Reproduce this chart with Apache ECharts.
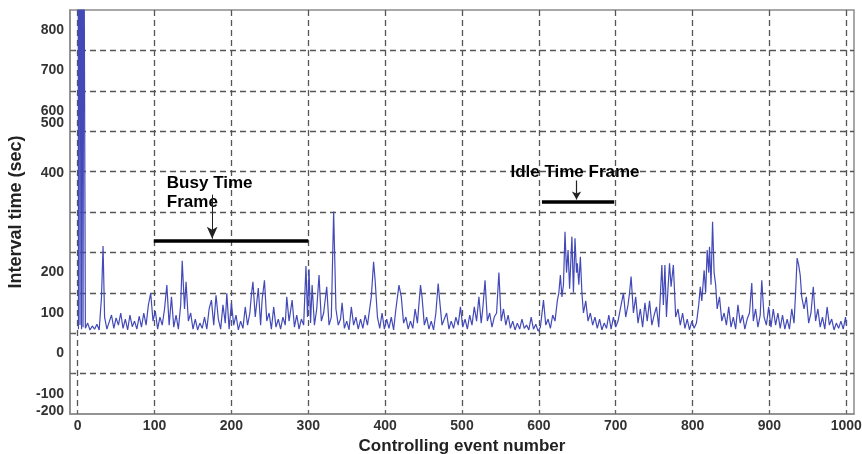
<!DOCTYPE html>
<html>
<head>
<meta charset="utf-8">
<script src="https://cdn.jsdelivr.net/npm/echarts@6/dist/echarts.min.js"></script>
<style>
html,body{margin:0;padding:0;background:#fff;}
#chart{width:862px;height:454px;}
</style>
</head>
<body>
<div id="chart"></div>
<script>
// ---- data ----
const eventNo = [0,1,2,3,4,5,6,7,8,10,13,16,19,22,25,28,31,33,35,38,41,44,47,50,53,56,59,62,65,68,71,74,77,80,83,86,89,92,95,98,101,104,107,110,113,116,119,122,125,128,131,134,136,139,141,144,147,150,153,156,159,162,165,168,171,174,177,180,183,186,189,192,194,197,200,203,206,209,212,215,218,221,224,226,228,231,235,238,240,243,246,249,252,255,258,261,264,267,270,272,275,279,282,285,288,291,294,297,299,301,303,305,308,311,314,317,320,324,327,330,333,336,339,342,344,347,350,353,356,359,362,365,368,371,374,377,382,385,387,390,393,396,399,402,405,408,411,414,418,421,424,427,430,433,436,439,442,446,448,451,454,457,460,463,466,469,471,474,477,480,483,486,489,492,495,498,501,504,507,510,513,516,519,522,525,527,530,533,536,539,542,545,548,551,554,557,560,563,566,569,572,575,578,581,584,587,590,593,596,599,602,606,609,612,615,618,621,624,626,628,630,632,634,636,638,640,643,645,647,649,650,652,654,656,658,661,664,667,670,673,676,679,682,685,688,691,694,697,700,703,706,710,713,716,718,720,723,726,729,732,735,738,741,744,747,750,753,756,760,762,764,766,768,770,772,775,778,781,784,787,790,793,796,799,802,805,808,810,812,815,817,819,821,822,824,826,828,830,832,835,838,841,844,847,850,853,856,859,862,865,868,871,874,877,879,882,885,888,890,893,896,899,902,905,908,911,914,917,920,923,926,929,932,934,936,938,940,942,945,948,951,954,957,960,963,966,969,972,975,978,981,984,987,990,993,996,999,1000];
const intervalSec = [3000,60,2600,70,2200,60,1800,65,1200,62,75,58,68,60,72,58,140,266,90,60,78,95,62,88,70,100,62,85,58,95,66,80,60,92,65,100,70,120,149,80,105,60,90,70,110,169,70,140,65,95,60,120,229,110,177,80,100,60,85,58,75,62,90,60,110,132,70,144,85,60,120,75,149,60,125,70,95,58,80,62,115,70,100,145,177,90,162,70,134,181,80,100,60,115,65,85,60,90,70,140,80,132,65,95,60,85,70,216,90,208,75,169,70,110,194,80,100,165,70,90,351,110,70,85,125,62,80,58,115,70,90,60,85,62,95,70,140,227,180,90,62,100,60,85,62,90,58,110,169,140,75,90,60,80,62,110,75,169,140,70,90,60,80,58,100,173,130,70,85,100,60,80,62,90,70,115,65,85,60,95,70,115,80,140,75,110,181,80,100,65,90,100,200,80,110,70,95,62,80,58,75,60,85,62,70,58,90,60,72,55,65,132,70,85,62,95,80,130,150,194,140,170,301,200,256,160,289,150,285,200,223,170,239,150,100,130,80,100,70,90,62,85,58,75,62,95,60,90,65,80,110,149,90,120,150,190,100,140,75,110,65,125,80,130,70,95,115,65,219,120,219,90,160,223,165,219,90,110,70,100,62,85,58,80,62,75,120,165,130,206,150,256,200,264,170,326,200,170,110,140,80,100,70,115,65,90,60,120,75,95,60,85,100,174,80,110,65,95,181,90,70,115,65,110,70,100,62,95,60,85,60,110,75,150,236,219,194,140,110,140,75,100,165,80,110,65,90,60,115,70,85,58,75,62,80,60,90,70];

const xTickValues = [0,100,200,300,400,500,600,700,800,900,1000];
const yGridValues = [-50,50,150,250,350,450,550,650,750];
const yLabelPos  = [800,700,600,571,447,200,100,0,-100,-142];
const yLabelText = ['800','700','600','500','400','200','100','0','-100','-200'];

// annotations (data coordinates)
const busyBar   = [[99,278],[300,278]];
const busyArrow = [[175,393],[175,284]];
const idleBar   = [[604,376],[698,376]];
const idleArrow = [[649,428],[649,381]];
const annoText  = [[116,422,'Busy Time'],[116,373,'Frame'],[563,448,'Idle Time Frame']];

const FONT = '"Liberation Sans", Arial, sans-serif';
const chart = echarts.init(document.getElementById('chart'), null, {renderer:'canvas'});

const seriesData = eventNo.map((x,i)=>[x,intervalSec[i]]);

chart.setOption({
  animation:false,
  backgroundColor:'#ffffff',
  grid:{left:70,right:8,top:10,bottom:40,show:true,borderColor:'#8c8c8c',borderWidth:1.5,containLabel:false,outerBoundsMode:'none'},
  xAxis:{
    type:'value',min:-10,max:1010,
    name:'Controlling event number',nameLocation:'middle',nameGap:21,
    nameTextStyle:{fontFamily:FONT,fontWeight:'bold',fontSize:17,color:'#222'},
    axisLine:{show:true,onZero:false,lineStyle:{color:'#8c8c8c',width:1.5}},
    axisTick:{show:true,inside:true,length:4,customValues:xTickValues,lineStyle:{color:'#666'}},
    axisLabel:{customValues:xTickValues,fontFamily:FONT,fontWeight:'bold',fontSize:14,color:'#333',margin:5,
      formatter:function(v){return String(v);}},
    splitLine:{show:true,lineStyle:{color:'#555',type:[6,4],width:1.3}}
  },
  yAxis:{
    type:'value',min:-150,max:850,
    name:'Interval time (sec)',nameLocation:'middle',nameGap:41,nameRotate:90,
    nameTextStyle:{fontFamily:FONT,fontWeight:'bold',fontSize:18,color:'#222'},
    axisLine:{show:true,onZero:false,lineStyle:{color:'#8c8c8c',width:1.5}},
    axisTick:{show:true,inside:true,length:4,customValues:yGridValues,lineStyle:{color:'#666'}},
    axisLabel:{customValues:yLabelPos,hideOverlap:false,fontFamily:FONT,fontWeight:'bold',fontSize:14,color:'#333',margin:6,
      formatter:function(v){const i=yLabelPos.indexOf(v);return i>=0?yLabelText[i]:'';}},
    splitLine:{show:true,lineStyle:{color:'#555',type:[6,4],width:1.3}}
  },
  series:[
    {
      type:'line',data:seriesData,showSymbol:false,symbol:'none',clip:true,
      lineStyle:{color:'#434ab8',width:1.2},
      markLine:{
        silent:true,animation:false,label:{show:false},
        lineStyle:{color:'#000',type:'solid'},
        data:[
          [{coord:busyBar[0],symbol:'none',lineStyle:{width:3.5,color:'#000',type:'solid'}},{coord:busyBar[1],symbol:'none'}],
          [{coord:idleBar[0],symbol:'none',lineStyle:{width:3.5,color:'#000',type:'solid'}},{coord:idleBar[1],symbol:'none'}],
          [{coord:busyArrow[0],symbol:'none',lineStyle:{width:1,color:'#222',type:'solid'}},{coord:busyArrow[1],symbol:'arrow',symbolSize:[8,12]}],
          [{coord:idleArrow[0],symbol:'none',lineStyle:{width:1.2,color:'#222',type:'solid'}},{coord:idleArrow[1],symbol:'arrow',symbolSize:[7,8]}]
        ]
      }
    },
    {
      type:'scatter',data:annoText,symbolSize:0,silent:true,itemStyle:{opacity:1},
      label:{show:true,position:'right',distance:0,opacity:1,formatter:function(p){return p.value[2];},
        fontFamily:FONT,fontWeight:'bold',fontSize:17,color:'#000',verticalAlign:'middle'}
    }
  ]
});
</script>
</body>
</html>
